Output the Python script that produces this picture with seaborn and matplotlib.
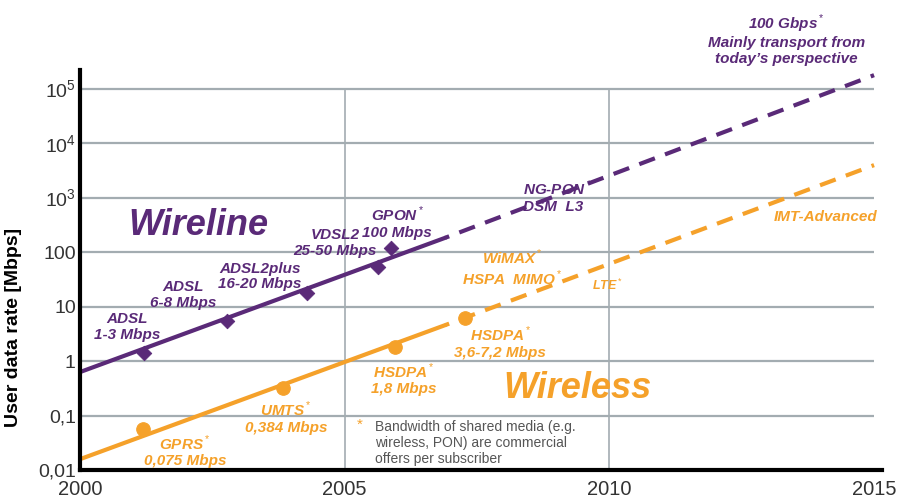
import numpy as np
import pandas as pd
import matplotlib
matplotlib.use('Agg')
import matplotlib.pyplot as plt
import seaborn as sns

# Trend lines (solid = realised, dashed = projection)
wire_solid_years = [2000, 2006.9]
wire_solid_rate = [0.63, 185]
wire_dash_years = [2006.9, 2015]
wire_dash_rate = [185, 180000]

wless_solid_years = [2000, 2006.9]
wless_solid_rate = [0.0158, 4.6]
wless_dash_years = [2006.9, 2015]
wless_dash_rate = [4.6, 4000]

# Technology data points
wire_years = [2001.21, 2002.78, 2004.29, 2005.63, 2005.88]
wire_rate = [1.41, 5.5, 17.9, 54, 120]
wless_years = [2001.19, 2003.84, 2005.95, 2007.28]
wless_rate = [0.057, 0.32, 1.82, 6.2]

y_ticks = [0.01, 0.1, 1, 10, 100, 1e3, 1e4, 1e5]
y_ticklabels = ['0,01', '0,1', '1', '10', '100', '$10^3$', '$10^4$', '$10^5$']
x_ticks = [2000, 2005, 2010, 2015]

PURPLE = '#5a2a78'
ORANGE = '#f5a12a'
GRID = '#a3acb1'

sns.set_theme(style='white')
plt.rcParams['font.family'] = ['Liberation Sans', 'DejaVu Sans']
plt.rcParams['mathtext.fontset'] = 'custom'
plt.rcParams['mathtext.rm'] = 'Liberation Sans'

fig = plt.figure(figsize=(8.98, 5.03), dpi=100)
ax = fig.add_axes([80/898, 1-470/503, 802/898, 400/503])
ax.set_yscale('log')
ax.set_xlim(2000, 2015.15)
ax.set_ylim(0.01, 10**5.35)

# grid
for yt in y_ticks[1:]:
    ax.hlines(yt, 2000, 2015, color=GRID, lw=1.6, zorder=0)
ax.vlines([2005, 2010], 0.01, 1e5, color=GRID, lw=1.2, zorder=0)

dash = (0, (4, 2.6))
sns.lineplot(x=wire_solid_years, y=wire_solid_rate, color=PURPLE, lw=3, ax=ax)
sns.lineplot(x=wire_dash_years, y=wire_dash_rate, color=PURPLE, lw=3, linestyle=(3, (4, 2.6)), ax=ax)
sns.lineplot(x=wless_solid_years, y=wless_solid_rate, color=ORANGE, lw=3, ax=ax)
sns.lineplot(x=wless_dash_years, y=wless_dash_rate, color=ORANGE, lw=3, linestyle=(3, (4, 2.6)), ax=ax)
sns.scatterplot(x=wire_years, y=wire_rate, marker='D', s=55, color=PURPLE, edgecolor=PURPLE, ax=ax, zorder=5)
sns.scatterplot(x=wless_years, y=wless_rate, marker='o', s=95, color=ORANGE, edgecolor=ORANGE, ax=ax, zorder=5)

# labels
lab = dict(fontsize=11, fontweight='bold', style='italic', ha='center', va='center', linespacing=1.15)
ax.text(2002.23, 316, 'Wireline', color=PURPLE, fontsize=26, fontweight='bold', style='italic', ha='center', va='center')
ax.text(2009.40, 0.32, 'Wireless', color=ORANGE, fontsize=26, fontweight='bold', style='italic', ha='center', va='center')

ax.text(2000.89, 4.2, 'ADSL\n1-3 Mbps', color=PURPLE, **lab)
ax.text(2001.95, 16.4, 'ADSL\n6-8 Mbps', color=PURPLE, **lab)
ax.text(2003.40, 36, 'ADSL2plus\n16-20 Mbps', color=PURPLE, **lab)
ax.text(2004.82, 148, 'VDSL2\n25-50 Mbps', color=PURPLE, **lab)
ax.text(2005.99, 360, 'GPON$^*$\n100 Mbps', color=PURPLE, **lab)
ax.text(2008.37, 1080, 'NG-PON$^*$\nDSM  L3', color=PURPLE, **{**lab, 'ha': 'left'})
ax.text(2013.35, 830000, '100 Gbps$^*$\nMainly transport from\ntoday\u2019s perspective',
        color=PURPLE, **lab)

ax.text(2014.08, 450, 'IMT-Advanced', color=ORANGE, **lab)
ax.text(2008.17, 52, 'WiMAX$^*$\nHSPA  MIMO$^*$', color=ORANGE, **lab)
ax.text(2009.96, 25, 'LTE$^*$', color=ORANGE, **{**lab, 'fontsize': 9})
ax.text(2007.94, 2.24, 'HSDPA$^*$\n3,6-7,2 Mbps', color=ORANGE, **lab)
ax.text(2006.12, 0.47, 'HSDPA$^*$\n1,8 Mbps', color=ORANGE, **lab)
ax.text(2003.89, 0.094, 'UMTS$^*$\n0,384 Mbps', color=ORANGE, **lab)
ax.text(2001.98, 0.0224, 'GPRS$^*$\n0,075 Mbps', color=ORANGE, **lab)

ax.text(2005.29, 0.068, '*', color=ORANGE, fontsize=11, ha='center', va='center')
ax.text(2005.58, 0.0313, 'Bandwidth of shared media (e.g.\nwireless, PON) are commercial\noffers per subscriber',
        color='#555555', fontsize=10, ha='left', va='center', linespacing=1.2)

# axes styling
ax.set_xticks(x_ticks)
ax.set_xticklabels([str(x) for x in x_ticks], fontsize=14.5, color='#333333')
ax.set_yticks(y_ticks)
ax.set_yticklabels(y_ticklabels, fontsize=14, color='#333333')
ax.minorticks_off()
ax.tick_params(axis='y', length=0, pad=3)
ax.tick_params(axis='x', length=0, pad=7)
ax.set_ylabel('User data rate [Mbps]', fontsize=14, fontweight='bold', color='black')
ax.yaxis.set_label_coords(-0.072, 0.357)
ax.set_xlabel('')
for s in ['top', 'right']:
    ax.spines[s].set_visible(False)
for s in ['left', 'bottom']:
    ax.spines[s].set_color('black')
    ax.spines[s].set_linewidth(3)

fig.savefig('out.png', dpi=100, facecolor='white')
